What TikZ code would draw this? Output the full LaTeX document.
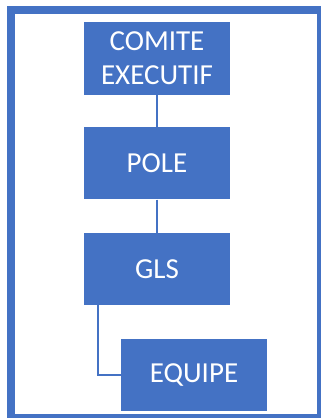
\documentclass[tikz,border=0pt]{standalone}
\usepackage{fontspec}
\setmainfont{Carlito}
\usetikzlibrary{positioning}
\definecolor{officeblue}{HTML}{4472C4}
\tikzset{
    mynode/.style = {rectangle, draw=none, align=center, fill=officeblue, minimum width=146pt, minimum height=72pt, inner sep=0pt, font=\fontsize{29}{34}\selectfont, text=white},
    edgen/.style = {-, line width=1.5pt, officeblue},
    framen/.style = {line width=8pt, officeblue}
}
\begin{document}
\begin{tikzpicture}[x=1pt,y=-1pt]
  \useasboundingbox (0,0) rectangle (321,418);
  \draw[framen] (11,10) rectangle (321,418);
  \node[mynode, minimum height=73pt] (comite) at (157,58.5) {COMITE\\EXECUTIF};
  \node[mynode, below=32pt of comite] (pole) {POLE};
  \node[mynode, below=33pt of pole] (gls) {GLS};
  \node[mynode, below=34pt of gls, xshift=37pt] (equipe) {EQUIPE};
  \draw[edgen] (comite) -- (pole);
  \draw[edgen] (pole) -- (gls);
  \draw[edgen] ([xshift=14pt]gls.south west) |- (equipe.west);
\end{tikzpicture}
\end{document}
